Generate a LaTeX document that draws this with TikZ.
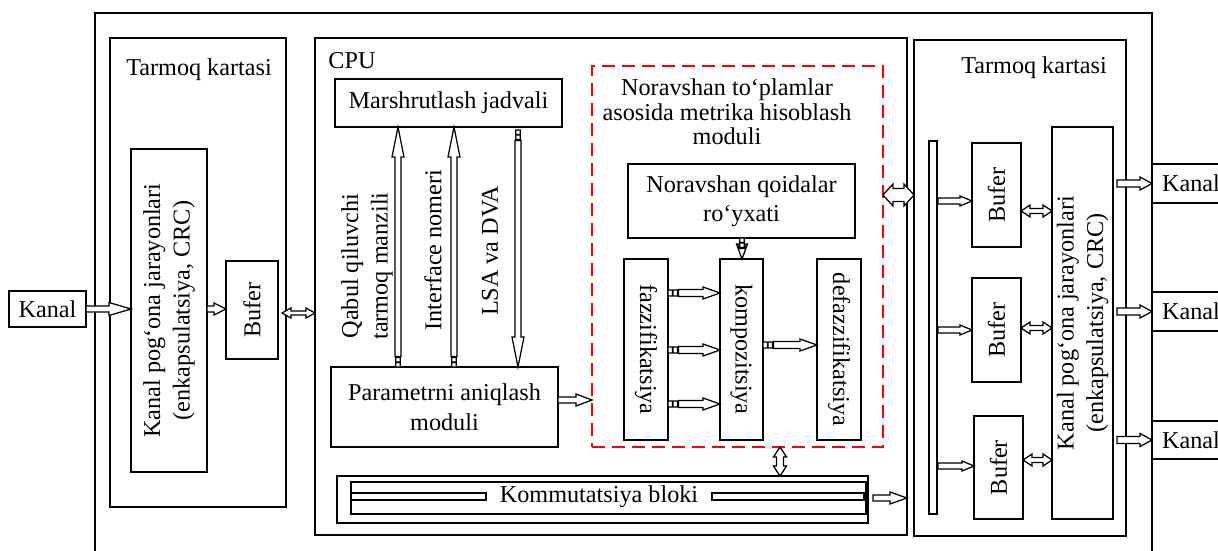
\documentclass[tikz,border=0pt]{standalone}
\usepackage{fontspec}
\setmainfont{Liberation Serif}
\usetikzlibrary{calc}

\tikzset{
  % block-arrow geometry: head length, head half-width, shaft half-width, tail square half-size
  ahl/.store in=\ahl, ahw/.store in=\ahw, ash/.store in=\ash, asq/.store in=\asq,
  ahl=12pt, ahw=6pt, ash=3pt, asq=2.5pt,
  txt/.style={font=\fontsize{24.2}{29.5}\selectfont, inner sep=0pt, outer sep=0pt},
  box/.style={draw, line width=1.4pt, fill=white, inner sep=0pt, outer sep=0pt},
  frame/.style={draw, line width=1.4pt},
  fuzzybox/.style={draw=red, line width=1.7pt, dash pattern=on 13pt off 7pt, inner sep=0pt, outer sep=0pt},
  % hollow single-headed arrow
  barrow/.style={draw, fill=white, line width=1.25pt, line join=miter, to path={
    let \p1=(\tikztostart), \p2=(\tikztotarget), \n1={atan2(\y2-\y1,\x2-\x1)} in
    ($(\p1)+(\n1+90:\ash)$) -- ($(\p2)+(\n1+180:\ahl)+(\n1+90:\ash)$)
    -- ($(\p2)+(\n1+180:\ahl)+(\n1+90:\ahw)$) -- (\p2)
    -- ($(\p2)+(\n1+180:\ahl)+(\n1-90:\ahw)$) -- ($(\p2)+(\n1+180:\ahl)+(\n1-90:\ash)$)
    -- ($(\p1)+(\n1-90:\ash)$) -- cycle}},
  % hollow arrow with two small squares at its tail
  tarrow/.style={draw, fill=white, line width=1.25pt, line join=miter, to path={
    let \p1=(\tikztostart), \p2=(\tikztotarget), \n1={atan2(\y2-\y1,\x2-\x1)} in
    ($(\p1)+(\n1-90:\asq)$) rectangle ($(\p1)+(\n1:4.5pt)+(\n1+90:\asq)$)
    ($(\p1)+(\n1:5pt)+(\n1-90:\asq)$) rectangle ($(\p1)+(\n1:9.5pt)+(\n1+90:\asq)$)
    ($(\p1)+(\n1:10.5pt)+(\n1+90:\ash)$) -- ($(\p2)+(\n1+180:\ahl)+(\n1+90:\ash)$)
    -- ($(\p2)+(\n1+180:\ahl)+(\n1+90:\ahw)$) -- (\p2)
    -- ($(\p2)+(\n1+180:\ahl)+(\n1-90:\ahw)$) -- ($(\p2)+(\n1+180:\ahl)+(\n1-90:\ash)$)
    -- ($(\p1)+(\n1:10.5pt)+(\n1-90:\ash)$) -- cycle}},
  % hollow double-headed arrow
  dbarrow/.style={draw, fill=white, line width=1.25pt, line join=miter, to path={
    let \p1=(\tikztostart), \p2=(\tikztotarget), \n1={atan2(\y2-\y1,\x2-\x1)} in
    (\p1) -- ($(\p1)+(\n1:\ahl)+(\n1+90:\ahw)$) -- ($(\p1)+(\n1:\ahl)+(\n1+90:\ash)$)
    -- ($(\p2)+(\n1+180:\ahl)+(\n1+90:\ash)$) -- ($(\p2)+(\n1+180:\ahl)+(\n1+90:\ahw)$)
    -- (\p2)
    -- ($(\p2)+(\n1+180:\ahl)+(\n1-90:\ahw)$) -- ($(\p2)+(\n1+180:\ahl)+(\n1-90:\ash)$)
    -- ($(\p1)+(\n1:\ahl)+(\n1-90:\ash)$) -- ($(\p1)+(\n1:\ahl)+(\n1-90:\ahw)$) -- cycle}},
}

\begin{document}
\begin{tikzpicture}[x=1pt,y=-1pt]
\useasboundingbox (0,0) rectangle (1218,551);
\fill[white] (0,0) rectangle (1218,551);
\clip (0,0) rectangle (1218,551);

% router enclosure
\draw[frame] (95,13) rectangle (1152,570);

% ---- input network card ----
\node[box, minimum width=176pt, minimum height=469pt] (tkL) at (198,272.5) {};
\node[txt, anchor=base] (tkLt) at (199,76) {Tarmoq kartasi};
\node[box, txt, minimum width=77pt, minimum height=36pt] (kanalL) at (47.5,309) {Kanal};
\node[box, minimum width=76pt, minimum height=323pt] (kpL) at (169,310.5) {};
\node[txt, rotate=90, align=center] (kpLt) at (kpL.center) {Kanal pog‘ona jarayonlari\\(enkapsulatsiya, CRC)};
\node[box, minimum width=52pt, minimum height=98pt] (bufL) at (252,310) {};
\node[txt, rotate=90] (bufLt) at (bufL.center) {Bufer};

% ---- CPU ----
\node[box, minimum width=592pt, minimum height=497pt] (cpu) at (611,286.5) {};
\node[txt, anchor=base] (cput) at (352,68) {CPU};
\node[box, txt, minimum width=227pt, minimum height=48pt] (marsh) at (448.5,103) {Marshrutlash jadvali};
\node[box, txt, align=center, minimum width=227pt, minimum height=80pt] (param) at (444.5,407) {Parametrni aniqlash\\moduli};

% fuzzy metric module
\node[fuzzybox, minimum width=291pt, minimum height=381pt] (red) at (737.5,256.5) {};
\node[txt, align=center, font=\fontsize{24.2}{24.5}\selectfont] (redt) at (727,112) {Noravshan to‘plamlar\\asosida metrika hisoblash\\moduli};
\node[box, txt, align=center, minimum width=227pt, minimum height=74pt] (qoida) at (741.5,201) {Noravshan qoidalar\\ro‘yxati};
\node[box, minimum width=44pt, minimum height=181pt] (faz) at (646,349.5) {};
\node[txt, rotate=-90] (fazt) at (faz.center) {fazzifikatsiya};
\node[box, minimum width=43pt, minimum height=181pt] (komp) at (741.5,349.5) {};
\node[txt, rotate=-90] (kompt) at (komp.center) {kompozitsiya};
\node[box, minimum width=44pt, minimum height=181pt] (defaz) at (839,349.5) {};
\node[txt, rotate=-90] (defazt) at (defaz.center) {defazzifikatsiya};

% switching fabric
\node[box, minimum width=531pt, minimum height=47pt] (kommO) at (602.5,499.5) {};
\node[box, minimum width=515pt, minimum height=32pt] (kommI) at (608.5,498) {};
\node[box, line width=1.2pt, minimum width=135pt, minimum height=7pt] (barL) at (418.5,496.5) {};
\node[box, line width=1.2pt, minimum width=152pt, minimum height=7pt] (barR) at (788,496.5) {};
\node[txt] (kommt) at (599,497) {Kommutatsiya bloki};

% ---- output network card ----
\node[box, minimum width=212pt, minimum height=496pt] (tkR) at (1020,288) {};
\node[txt, anchor=base] (tkRt) at (1034,74) {Tarmoq kartasi};
\node[box, line width=1.2pt, minimum width=8pt, minimum height=373pt] (bus) at (933,327.5) {};
\node[box, minimum width=49pt, minimum height=104pt] (buf1) at (996.5,195) {};
\node[box, minimum width=49pt, minimum height=104pt] (buf2) at (996.5,330) {};
\node[box, minimum width=49pt, minimum height=103pt] (buf3) at (998.5,467.5) {};
\node[txt, rotate=90] at (buf1.center) {Bufer};
\node[txt, rotate=90] at (buf2.center) {Bufer};
\node[txt, rotate=90] at (buf3.center) {Bufer};
\node[box, minimum width=61pt, minimum height=392pt] (kpR) at (1082.5,323) {};
\node[txt, rotate=90, align=center] (kpRt) at (kpR.center) {Kanal pog‘ona jarayonlari\\(enkapsulatsiya, CRC)};
\node[box, txt, minimum width=78pt, minimum height=39pt] (kanR1) at (1191,183.5) {Kanal};
\node[box, txt, minimum width=78pt, minimum height=39pt] (kanR2) at (1191,311.5) {Kanal};
\node[box, txt, minimum width=78pt, minimum height=38pt] (kanR3) at (1191,440) {Kanal};

% ---- connectors ----
\draw[barrow, ahl=22pt, ahw=6.5pt, ash=3pt] (kanalL.east) to (kanalL.east -| kpL.west);
\draw[barrow, ahl=12pt, ahw=6pt, ash=3pt] (kpL.east |- 0,309) to (bufL.west |- 0,309);
\draw[dbarrow, ahl=9pt, ahw=5pt, ash=2pt] ($(bufL.east |- 0,313)+(4,0)$) to (cpu.west |- 0,313);

\draw[tarrow, ahl=30pt, ahw=6pt, ash=3pt, asq=2.3pt] (398,0 |- param.north) to (398,0 |- marsh.south);
\draw[tarrow, ahl=30pt, ahw=6pt, ash=3pt, asq=2.3pt] (454,0 |- param.north) to (454,0 |- marsh.south);
\draw[tarrow, ahl=30pt, ahw=6pt, ash=3pt, asq=2.3pt] ($(518,0 |- marsh.south)+(0,3)$) to (518,0 |- param.north);
\node[txt, rotate=90, align=center] (qabul) at (367,266) {Qabul qiluvchi\\tarmoq manzili};
\node[txt, rotate=90] (iface) at (433,250) {Interface nomeri};
\node[txt, rotate=90] (lsa) at (490,251) {LSA va DVA};

\draw[barrow, ahl=16pt, ahw=6pt, ash=3pt] (param.east |- 0,400) to (red.west |- 0,400);
\draw[tarrow, ahl=15pt, ahw=5.5pt, ash=3pt, asq=2.3pt] (742,0 |- qoida.south) to (742,0 |- komp.north);
\draw[tarrow, ahl=17pt, ahw=6pt, ash=3.5pt, asq=3pt] (faz.east |- 0,293) to (komp.west |- 0,293);
\draw[tarrow, ahl=17pt, ahw=6pt, ash=3.5pt, asq=3pt] (faz.east |- 0,350) to (komp.west |- 0,350);
\draw[tarrow, ahl=17pt, ahw=6pt, ash=3.5pt, asq=3pt] (faz.east |- 0,404) to (komp.west |- 0,404);
\draw[tarrow, ahl=17pt, ahw=6pt, ash=3.5pt, asq=3pt] (komp.east |- 0,345) to (defaz.west |- 0,345);

\draw[dbarrow, ahl=10pt, ahw=11pt, ash=6.5pt] (red.east |- 0,195) to (tkR.west |- 0,195);
\draw[dbarrow, ahl=10pt, ahw=6.5pt, ash=3.5pt] (780,0 |- red.south) to (780,0 |- kommO.north);
\draw[barrow, ahl=17pt, ahw=6pt, ash=3pt] ($(kommO.east |- 0,498)+(5,0)$) to (cpu.east |- 0,498);

\draw[barrow, ahl=12pt, ahw=5pt, ash=3pt] ($(bus.east |- 0,201)+(1,0)$) to (buf1.west |- 0,201);
\draw[barrow, ahl=12pt, ahw=5pt, ash=3pt] ($(bus.east |- 0,330)+(1,0)$) to (buf2.west |- 0,330);
\draw[barrow, ahl=12pt, ahw=5pt, ash=3pt] ($(bus.east |- 0,466)+(1,0)$) to (buf3.west |- 0,466);

\draw[dbarrow, ahl=9pt, ahw=6pt, ash=2.5pt] (buf1.east |- 0,211) to (kpR.west |- 0,211);
\draw[dbarrow, ahl=9pt, ahw=6pt, ash=2.5pt] (buf2.east |- 0,328) to (kpR.west |- 0,328);
\draw[dbarrow, ahl=9pt, ahw=6pt, ash=2.5pt] (buf3.east |- 0,460) to (kpR.west |- 0,460);

\draw[barrow, ahl=12pt, ahw=6.5pt, ash=3.5pt] ($(kpR.east |- kanR1.west)+(4,0)$) to (kanR1.west);
\draw[barrow, ahl=12pt, ahw=6.5pt, ash=3.5pt] ($(kpR.east |- kanR2.west)+(4,0)$) to (kanR2.west);
\draw[barrow, ahl=12pt, ahw=6.5pt, ash=3.5pt] ($(kpR.east |- kanR3.west)+(4,0)$) to (kanR3.west);
\end{tikzpicture}
\end{document}
